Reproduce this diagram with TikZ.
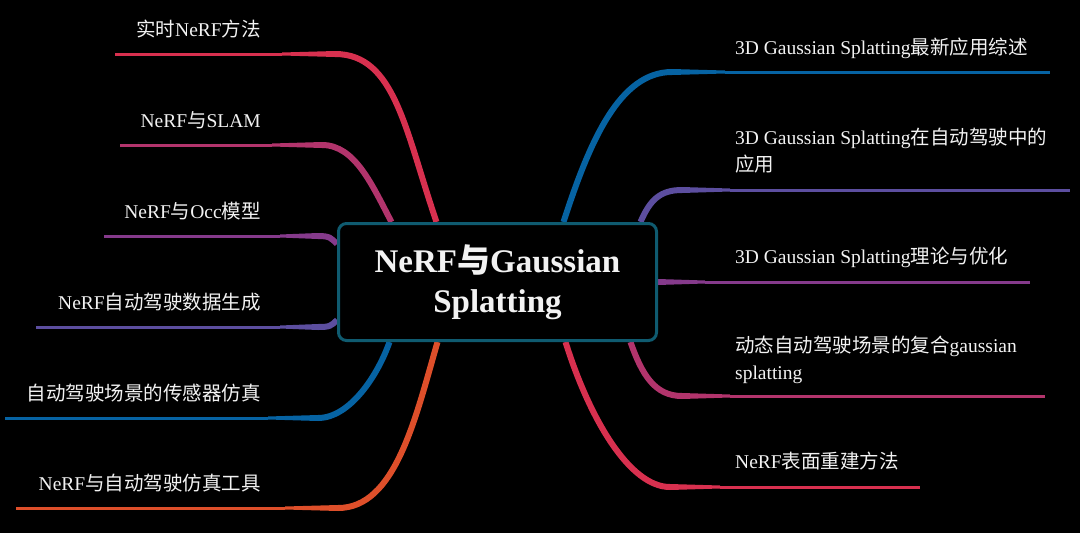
\documentclass[tikz,border=0pt]{standalone}
\usepackage{fontspec}
\setmainfont{Liberation Serif}
\newfontfamily\cjk{Noto Sans CJK SC}
\usetikzlibrary{backgrounds}
\definecolor{cred}{HTML}{D8304F}
\definecolor{cmag}{HTML}{B2346C}
\definecolor{cpur}{HTML}{853A8B}
\definecolor{cvio}{HTML}{5C4E9F}
\definecolor{cblu}{HTML}{0663A3}
\definecolor{cora}{HTML}{DE4F2A}
\definecolor{cbox}{HTML}{0F5B70}
\definecolor{txt}{HTML}{F2F2F2}
\newcommand\taper[3]{\fill[#1] ([yshift=3pt]#2) -- ([yshift=1.5pt]#3) -- ([yshift=-1.5pt]#3) -- ([yshift=-3pt]#2) -- cycle;}
\begin{document}
\begin{tikzpicture}[x=1pt,y=-1pt,
  lbl/.style={inner sep=0pt, text=txt, font=\fontsize{19.5}{27}\selectfont},
  trunk/.style={line width=6pt},
  twig/.style={line width=3pt},
  hub/.style={draw=cbox, line width=3pt, rounded corners=8pt, fill=black,
    minimum width=318pt, minimum height=117pt, inner sep=0pt, align=center,
    text=txt, font=\fontsize{33}{40}\selectfont\bfseries}]
\useasboundingbox (0,0) rectangle (1080,533);
\node[hub] (c) at (497.5,282) {NeRF{\cjk\bfseries 与}Gaussian\\Splatting};

% coordinates of the branch lines
\coordinate (b1) at (335,54);  \coordinate (t1) at (282,54);  \coordinate (e1) at (115,54);
\coordinate (b2) at (322,145); \coordinate (t2) at (272,145); \coordinate (e2) at (120,145);
\coordinate (b3) at (318,236); \coordinate (t3) at (280,236); \coordinate (e3) at (104,236);
\coordinate (b4) at (318,327); \coordinate (t4) at (280,327); \coordinate (e4) at (36,327);
\coordinate (b5) at (318,418); \coordinate (t5) at (268,418); \coordinate (e5) at (5,418);
\coordinate (b6) at (338,508); \coordinate (t6) at (285,508); \coordinate (e6) at (16,508);
\coordinate (rb1) at (672,72);  \coordinate (rt1) at (725,72);  \coordinate (re1) at (1050,72);
\coordinate (rb2) at (682,190); \coordinate (rt2) at (730,190); \coordinate (re2) at (1070,190);
\coordinate (rb3) at (658,282); \coordinate (rt3) at (705,282); \coordinate (re3) at (1030,282);
\coordinate (rb4) at (682,396); \coordinate (rt4) at (730,396); \coordinate (re4) at (1045,396);
\coordinate (rb5) at (670,487); \coordinate (rt5) at (720,487); \coordinate (re5) at (920,487);

\begin{scope}[on background layer]
\fill[black] (0,0) rectangle (1080,533);
% left
\draw[trunk,cred] ([xshift=-61pt]c.north) .. controls (405,130) and (395,54) .. (b1);
\taper{cred}{b1}{t1} \draw[twig,cred] (t1) -- (e1);
\draw[trunk,cmag] ([xshift=-106pt]c.north) .. controls (372,185) and (355,145) .. (b2);
\taper{cmag}{b2}{t2} \draw[twig,cmag] (t2) -- (e2);
\draw[trunk,cpur] ([yshift=38pt]c.west) .. controls +(-6,-6) and +(12,0) .. (b3);
\taper{cpur}{b3}{t3} \draw[twig,cpur] (t3) -- (e3);
\draw[trunk,cvio] ([yshift=-38pt]c.west) .. controls +(-6,6) and +(12,0) .. (b4);
\taper{cvio}{b4}{t4} \draw[twig,cvio] (t4) -- (e4);
\draw[trunk,cblu] ([xshift=-108pt]c.south) .. controls (378,375) and (350,418) .. (b5);
\taper{cblu}{b5}{t5} \draw[twig,cblu] (t5) -- (e5);
\draw[trunk,cora] ([xshift=-60pt]c.south) .. controls (415,420) and (395,508) .. (b6);
\taper{cora}{b6}{t6} \draw[twig,cora] (t6) -- (e6);
% right
\draw[trunk,cblu] ([xshift=66pt]c.north) .. controls (590,140) and (620,72) .. (rb1);
\taper{cblu}{rb1}{rt1} \draw[twig,cblu] (rt1) -- (re1);
\draw[trunk,cvio] ([xshift=143pt]c.north) .. controls (650,200) and (660,190) .. (rb2);
\taper{cvio}{rb2}{rt2} \draw[twig,cvio] (rt2) -- (re2);
\taper{cpur}{c.east}{rt3} \draw[twig,cpur] (rt3) -- (re3);
\draw[trunk,cmag] ([xshift=133pt]c.south) .. controls (642,375) and (655,396) .. (rb4);
\taper{cmag}{rb4}{rt4} \draw[twig,cmag] (rt4) -- (re4);
\draw[trunk,cred] ([xshift=68pt]c.south) .. controls (590,420) and (630,487) .. (rb5);
\taper{cred}{rb5}{rt5} \draw[twig,cred] (rt5) -- (re5);
\end{scope}

% labels
\node[lbl, anchor=base east] (l1) at (261,36) {{\cjk 实时}NeRF{\cjk 方法}};
\node[lbl, anchor=base east] (l2) at (261,127) {NeRF{\cjk 与}SLAM};
\node[lbl, anchor=base east] (l3) at (261,218) {NeRF{\cjk 与}Occ{\cjk 模型}};
\node[lbl, anchor=base east] (l4) at (261,309) {NeRF{\cjk 自动驾驶数据生成}};
\node[lbl, anchor=base east] (l5) at (261,400) {{\cjk 自动驾驶场景的传感器仿真}};
\node[lbl, anchor=base east] (l6) at (261,490) {NeRF{\cjk 与自动驾驶仿真工具}};
\node[lbl, anchor=base west] (r1) at (735,54) {3D Gaussian Splatting{\cjk 最新应用综述}};
\node[lbl, anchor=base west, align=left] (r2) at (735,171) {3D Gaussian Splatting{\cjk 在自动驾驶中的}\\{\cjk 应用}};
\node[lbl, anchor=base west] (r3) at (735,263) {3D Gaussian Splatting{\cjk 理论与优化}};
\node[lbl, anchor=base west, align=left] (r4) at (735,379) {{\cjk 动态自动驾驶场景的复合}gaussian\\splatting};
\node[lbl, anchor=base west] (r5) at (735,468) {NeRF{\cjk 表面重建方法}};
\end{tikzpicture}
\end{document}
